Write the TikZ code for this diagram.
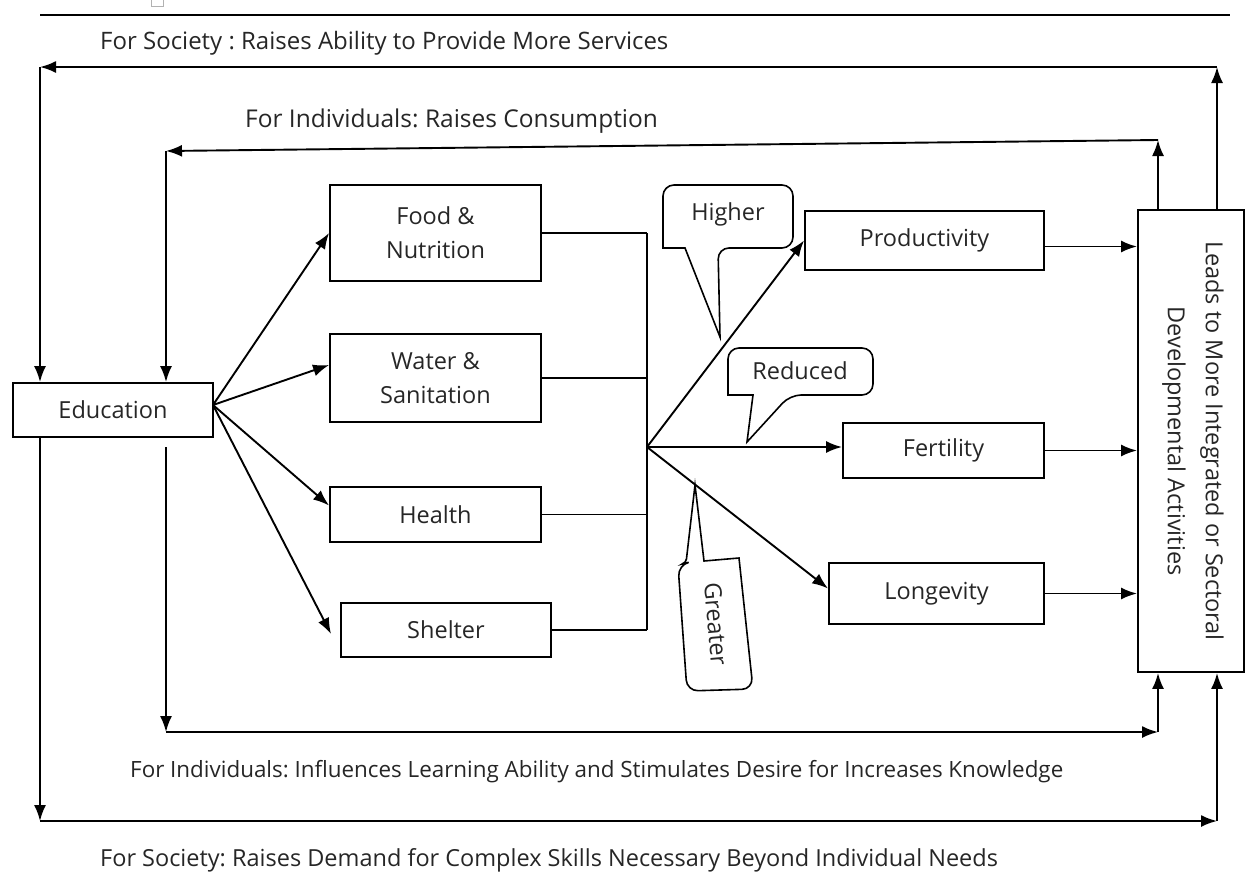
\documentclass[tikz,border=0pt]{standalone}
\usepackage{fontspec}
\setmainfont{Open Sans}
\frenchspacing
\usetikzlibrary{arrows.meta,calc}

\begin{document}
\begin{tikzpicture}[x=1pt, y=-1pt,
  main/.style = {draw, line width=1.9pt, inner sep=0pt, align=center, text=black!85, font=\fontsize{23.5}{34}\selectfont},
  arr/.style = {line width=1.9pt, -{Latex[length=16pt, width=12pt]}},
  lbl/.style = {anchor=base west, inner sep=0pt, text=black!85, font=\fontsize{24}{28}\selectfont},
  bubble/.style = {line width=1.6pt},
  word/.style = {inner sep=0pt, text=black!85, font=\fontsize{23.5}{28}\selectfont}]

\useasboundingbox (0,0) rectangle (1245,884);

\draw[gray!60, line width=1pt] (151,-2) rectangle (163,6);
\draw[line width=1.6pt] (40,15) -- (1230,15);

\node[main, minimum width=200, minimum height=54] (Edu) at (113,410) {Education};

\node[main, minimum width=211, minimum height=96] (Food) at (435.5,233) {Food \&\\Nutrition};
\node[main, minimum width=211, minimum height=88] (Water) at (435.5,378) {Water \&\\Sanitation};
\node[main, minimum width=211, minimum height=55] (Health) at (435.5,514.5) {Health};
\node[main, minimum width=210, minimum height=54] (Shelter) at (446,630) {Shelter};

\node[main, minimum width=239, minimum height=59] (Prod) at (924.5,240.5) {Productivity};
\node[main, minimum width=201, minimum height=55] (Fert) at (943.5,450.5) {Fertility};
\node[main, minimum width=215, minimum height=61] (Long) at (936.5,593.5) {Longevity};

\node[main, minimum width=106, minimum height=462] (Leads) at (1191,441) {};
\node[word, rotate=-90, align=center, font=\fontsize{23.5}{38}\selectfont] (LeadsTxt) at (1193,441)
  {Leads to More Integrated or Sectoral\\Developmental Activities};

\coordinate (src) at (213,405);
\coordinate (hub) at (647,447);

\draw[arr] (src) -- (Food.west);
\draw[arr] (src) -- ([yshift=13pt]Water.west);
\draw[arr] (src) -- ([yshift=9pt]Health.west);
\draw[arr] (src) -- (331,634);

\draw[line width=1.9pt] (Food.east) -- (Food.east -| hub);
\draw[line width=1.9pt] (Water.east) -- (Water.east -| hub);
\draw[line width=1.9pt] (Health.east) -- (Health.east -| hub);
\draw[line width=1.9pt] (Shelter.east) -- (Shelter.east -| hub);
\draw[line width=1.9pt] (Food.east -| hub) -- (Shelter.east -| hub);

\draw[arr] (hub) -- (Prod.west);
\draw[arr] (hub) -- (hub -| Fert.west);
\draw[arr] (hub) -- ([yshift=5pt]Long.west);

\draw[arr] ([yshift=-6pt]Prod.east) -- ([yshift=-6pt]Prod.east -| Leads.west);
\draw[arr] (Fert.east) -- (Fert.east -| Leads.west);
\draw[arr] (Long.east) -- (Long.east -| Leads.west);

% feedback loops, top
\coordinate (ro) at (1217,67);
\coordinate (lo) at (40,67);
\coordinate (ri) at (1158,140);
\coordinate (li) at (166,151);
\draw[arr] (Leads.north -| ro) -- (ro);
\draw[arr] (ro) -- (lo);
\draw[arr] (lo) -- (lo |- Edu.north);
\draw[arr] (Leads.north -| ri) -- (ri);
\draw[arr] (ri) -- (li);
\draw[arr] (li) -- (li |- Edu.north);

% feedback loops, bottom
\coordinate (eb) at (166,447);
\coordinate (lb) at (166,732);
\coordinate (rb) at (1158,732);
\coordinate (lob) at (40,821);
\coordinate (rob) at (1217,821);
\draw[arr] (eb) -- (lb);
\draw[arr] (lb) -- (rb);
\draw[arr] (rb) -- (rb |- Leads.south);
\draw[arr] (Edu.south -| lob) -- (lob);
\draw[arr] (lob) -- (rob);
\draw[arr] (rob) -- (rob |- Leads.south);

\node[lbl] (SocTop) at (100,49) {For Society : Raises Ability to Provide More Services};
\node[lbl, font=\fontsize{24.5}{28}\selectfont] (IndTop) at (245,127) {For Individuals: Raises Consumption};
\node[lbl, font=\fontsize{22.4}{28}\selectfont] (IndBot) at (130,777) {For Individuals: Influences Learning Ability and Stimulates Desire for Increases Knowledge};
\node[lbl, font=\fontsize{23.5}{28}\selectfont] (SocBot) at (100,866) {For Society: Raises Demand for Complex Skills Necessary Beyond Individual Needs};

% callouts
\draw[bubble] (720,337) -- (685,248) -- (663,248) [rounded corners=11pt] -- (663,185) -- (793,185)
  -- (793,248) -- (718,248) [sharp corners] -- cycle;
\node[word] (Higher) at (728,214) {Higher};

\draw[bubble] (747,442) -- (753,395) -- (728,395) [rounded corners=11pt] -- (728,348) -- (873,348)
  -- (873,395) -- (790,395) [sharp corners] -- cycle;
\node[word] (Reduced) at (800,371) {Reduced};

\draw[bubble] (695,485) -- (704,561) -- (739,558) [rounded corners=11pt] -- (753,689) -- (687,691)
  -- (678,565) [rounded corners=4pt] -- (686,563) [sharp corners] -- cycle;
\node[word, rotate=-85] (Greater) at (716,624) {Greater};

\end{tikzpicture}
\end{document}
